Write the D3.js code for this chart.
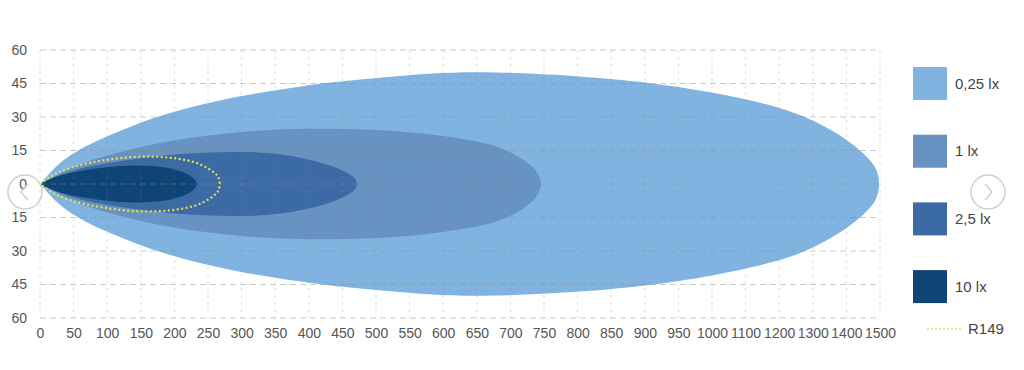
<!DOCTYPE html>
<html>
<head>
<meta charset="utf-8">
<script src="https://cdn.jsdelivr.net/npm/d3@7"></script>
<style>
  body { margin: 0; background: #fff; }
  svg { display: block; font-family: "Liberation Sans", Arial, sans-serif; }
</style>
</head>
<body>
<div id="chart"></div>
<script>
const width = 1024;
const height = 370;
const margin = ({top: 50, right: 144, bottom: 52, left: 40});

// tick values (x axis switches from steps of 50 to steps of 100 after 1000)
const xTicks = [0, 50, 100, 150, 200, 250, 300, 350, 400, 450, 500, 550, 600, 650, 700,
  750, 800, 850, 900, 950, 1000, 1100, 1200, 1300, 1400, 1500];
const yTicks = [-60, -45, -30, -15, 0, 15, 30, 45, 60];

// legend
const levels = ["0,25 lx", "1 lx", "2,5 lx", "10 lx"];
const levelColors = ["#80b3df", "#6792c1", "#3b6aa5", "#0f4476"];

// isolux contours: distance (m) and half width (m)
const lux025Dist = [0, 24, 43, 68, 94, 143, 192, 243, 292, 341, 391, 440, 485, 580, 670, 804, 903, 1003, 1202, 1301, 1402, 1470, 1492, 1500];
const lux025Half = [0, 8.1, 12.5, 17, 20.6, 26.9, 31.8, 35.8, 39, 41.6, 43.9, 45.7, 47, 49.7, 50.4, 48.4, 45.6, 41.2, 34.6, 28.7, 20.2, 11.2, 6.2, 0];

const lux1Dist = [0, 43, 94, 143, 192, 243, 292, 341, 391, 485, 580, 670, 704, 734, 743, 747];
const lux1Half = [0, 7.2, 12.5, 16.1, 19.3, 21.5, 23.1, 24.3, 24.8, 24.8, 22.6, 18.2, 14, 8, 3.5, 0];

const lux25Dist = [0, 24, 68, 143, 192, 243, 292, 341, 391, 440, 469, 473];
const lux25Half = [0, 3.6, 8, 11.4, 13.1, 14.1, 14.5, 14.1, 11.9, 7.8, 3.2, 0];

const lux10Dist = [0, 19, 43, 94, 143, 192, 217, 231, 234];
const lux10Half = [0, 3, 5, 7.5, 8.7, 7.5, 5.2, 2.2, 0];

const r149Dist = [0, 24, 68, 118, 168, 217, 243, 262, 266, 268];
const r149Half = [0, 5.4, 9.4, 11.8, 12.7, 11.1, 8.6, 4.6, 3, 0];

const contours = [
  {dist: lux025Dist, half: lux025Half},
  {dist: lux1Dist, half: lux1Half},
  {dist: lux25Dist, half: lux25Half},
  {dist: lux10Dist, half: lux10Half},
];

const x = d3.scaleLinear()
  .domain([0, 1000, 1500])
  .range([margin.left, margin.left + 20 * 33.6, width - margin.right]);
const y = d3.scaleLinear().domain([-60, 60]).range([height - margin.bottom, margin.top]);

// go along the top edge, round the far end, and back along the bottom edge
function outline(dist, half) {
  const top = dist.map((d, i) => [d, half[i]]);
  const bottom = top.slice(0, -1).reverse().map(([d, h]) => [d, -h]);
  return top.concat(bottom);
}

const line = d3.line()
  .x(d => x(d[0]))
  .y(d => y(d[1]))
  .curve(d3.curveBasis);

const svg = d3.select("#chart").append("svg")
  .attr("width", width)
  .attr("height", height);

// beam shapes
svg.append("g").selectAll("path")
  .data(contours)
  .join("path")
    .attr("d", c => line(outline(c.dist, c.half)))
    .attr("fill", (c, i) => levelColors[i]);

// grid on top, faint
const grid = svg.append("g").attr("class", "grid");
grid.selectAll("line.v")
  .data(xTicks)
  .join("line")
    .attr("class", "v")
    .attr("x1", d => x(d)).attr("x2", d => x(d))
    .attr("y1", y(60)).attr("y2", y(-60))
    .attr("stroke", "rgba(140,140,140,0.3)")
    .attr("stroke-dasharray", "3,4");
grid.selectAll("line.h")
  .data(yTicks)
  .join("line")
    .attr("class", "h")
    .attr("x1", x(0)).attr("x2", x(1500))
    .attr("y1", d => y(d)).attr("y2", d => y(d))
    .attr("stroke", "rgba(140,140,140,0.45)")
    .attr("stroke-dasharray", "6,4");

// R149 dotted outline
svg.append("path")
  .attr("d", line(outline(r149Dist, r149Half)))
  .attr("fill", "none")
  .attr("stroke", "#e9e24c")
  .attr("stroke-width", 2.2)
  .attr("stroke-dasharray", "2,2.5");

// axes
const xAxis = g => g
  .attr("transform", `translate(0,${height - margin.bottom})`)
  .call(d3.axisBottom(x).tickValues(xTicks).tickFormat(d => d).tickSize(0).tickPadding(10))
  .call(g => g.select(".domain").remove());

const yAxis = g => g
  .attr("transform", `translate(${margin.left},0)`)
  .call(d3.axisLeft(y).tickValues(yTicks).tickFormat(d => Math.abs(d)).tickSize(0).tickPadding(13))
  .call(g => g.select(".domain").remove());

svg.append("g").call(xAxis);
svg.append("g").call(yAxis);
svg.selectAll(".tick text")
  .attr("font-family", "'Liberation Sans', Arial, sans-serif")
  .attr("font-size", 14)
  .attr("fill", "#555");

// legend
const legend = svg.append("g").attr("transform", "translate(913,0)");
const item = legend.selectAll("g")
  .data(levels)
  .join("g")
    .attr("transform", (d, i) => `translate(0,${67 + i * 67.7})`);
item.append("rect")
  .attr("width", 34).attr("height", 33)
  .attr("fill", (d, i) => levelColors[i]);
item.append("text")
  .attr("x", 42).attr("y", 16.5).attr("dy", "0.35em")
  .attr("font-size", 15).attr("fill", "#444")
  .text(d => d);

legend.append("line")
  .attr("x1", 14).attr("x2", 48)
  .attr("y1", 329).attr("y2", 329)
  .attr("stroke", "#e9e24c")
  .attr("stroke-width", 1.5)
  .attr("stroke-dasharray", "2,2");
legend.append("text")
  .attr("x", 55).attr("y", 329).attr("dy", "0.35em")
  .attr("font-size", 15).attr("fill", "#444")
  .text("R149");

// carousel arrows
const nav = svg.append("g").attr("fill", "none").attr("stroke", "#cfcfcf").attr("stroke-width", 1.5);
nav.append("circle").attr("cx", 25).attr("cy", 192).attr("r", 17);
nav.append("path").attr("d", "M28,184L21,192L28,200");
nav.append("circle").attr("cx", 988).attr("cy", 192).attr("r", 17);
nav.append("path").attr("d", "M985,184L992,192L985,200");
</script>
</body>
</html>
